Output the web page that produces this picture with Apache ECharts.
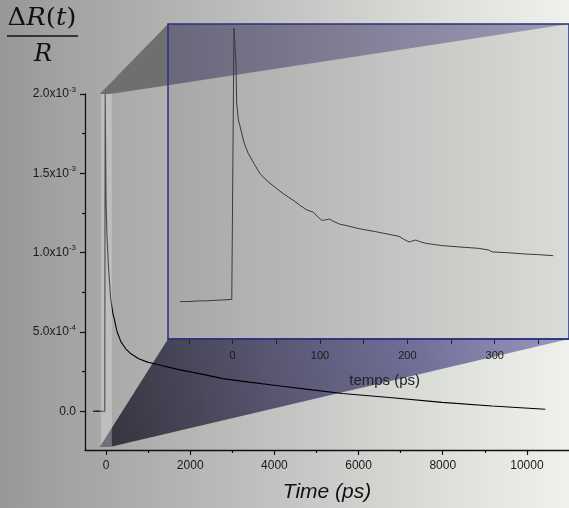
<!DOCTYPE html>
<html><head><meta charset="utf-8">
<script src="https://cdn.jsdelivr.net/npm/echarts@6/dist/echarts.min.js"></script>
<style>html,body{margin:0;padding:0;background:#fff;}#c{width:569px;height:508px;}</style>
</head><body><div id="c"></div>
<script>
// ---- main transient (Time in ps, ΔR/R) ----
const mainTime   = [-310, -200, -100, -30, -25, -20, 0, 20, 57, 111, 160, 199, 237, 265, 355, 467, 592, 775, 988, 1273, 1699, 2220, 2773, 3400, 4187, 4900, 5616, 6801, 7986, 9171, 10436];
const mainSignal = [0, 0.001e-3, 0, 0, 1.2e-3, 2.0e-3, 1.33e-3, 1.12e-3, 0.914e-3, 0.706e-3, 0.62e-3, 0.58e-3, 0.53e-3, 0.50e-3, 0.4375e-3, 0.394e-3, 0.3625e-3, 0.331e-3, 0.31e-3, 0.292e-3, 0.264e-3, 0.2375e-3, 0.206e-3, 0.184e-3, 0.158e-3, 0.135e-3, 0.1125e-3, 0.0856e-3, 0.056e-3, 0.033e-3, 0.0125e-3];

// ---- inset zoom (temps in ps) ----
const insetTime   = [-60, -50, -40, -30, -20, -10, -1, 0.8, 1.5, 3.8, 4.6, 6.5, 9.5, 13, 17.8, 24.3, 31.1, 39.6, 50.1, 58.4, 69, 77, 84.3, 92.6, 97, 102, 106, 110.8, 116, 122, 129.8, 145, 164, 178, 190.5, 196, 202, 209.6, 215, 221, 239.9, 260, 281.7, 293, 297, 315, 334.9, 350, 367];
const insetSignal = [-0.007e-3, -0.006e-3, -0.002e-3, -0.001e-3, 0.003e-3, 0.006e-3, 0.010e-3, 0.012e-3, 2.0e-3, 1.743e-3, 1.45e-3, 1.33e-3, 1.252e-3, 1.16e-3, 1.081e-3, 1.008e-3, 0.934e-3, 0.878e-3, 0.824e-3, 0.783e-3, 0.7385e-3, 0.70e-3, 0.668e-3, 0.648e-3, 0.618e-3, 0.59e-3, 0.592e-3, 0.599e-3, 0.58e-3, 0.5625e-3, 0.552e-3, 0.528e-3, 0.506e-3, 0.488e-3, 0.472e-3, 0.45e-3, 0.431e-3, 0.445e-3, 0.432e-3, 0.421e-3, 0.404e-3, 0.394e-3, 0.384e-3, 0.372e-3, 0.358e-3, 0.352e-3, 0.3425e-3, 0.338e-3, 0.330e-3];

// ---- ticks ----
const xTicks = [0, 2000, 4000, 6000, 8000, 10000];
const xMinorTicks = [1000, 3000, 5000, 7000, 9000];
const yTicks = [0, 0.0005, 0.001, 0.0015, 0.002];
const yTickLabels = ['0.0', '5.0x10^-4', '1.0x10^-3', '1.5x10^-3', '2.0x10^-3'];
const yMinorTicks = [0.00025, 0.00075, 0.00125, 0.00175];
const insetTicks = [-50, 0, 50, 100, 150, 200, 250, 300, 350];
const insetTickLabels = [0, 100, 200, 300];

// ---- texts ----
const xAxisTitle = 'Time (ps)';
const insetAxisTitle = 'temps (ps)';

const FONT = 'Liberation Sans';
const chart = echarts.init(document.getElementById('c'), null, {renderer: 'canvas', width: 569, height: 508});

const mainData = mainTime.map((t, i) => [t, mainSignal[i]]);
const insetData = insetTime.map((t, i) => [t, insetSignal[i]]);

function yFmt(v) {
  const idx = yTicks.findIndex(t => Math.abs(t - v) < 1e-9);
  if (idx < 0) return '';
  const s = yTickLabels[idx];
  if (s.indexOf('^') >= 0) { const p = s.split('^'); return '{m|' + p[0] + '}{e|' + p[1] + '}'; }
  return '{m|' + s + '}';
}
const plain = v => String(v);

const option = {
  animation: false,
  grid: [
    {left: 85, top: 94, width: 485.5, height: 358},
    {left: 168, top: 24, width: 403, height: 315}
  ],
  xAxis: [
    {gridIndex: 0, type: 'value', min: -500, max: 11000,
     name: xAxisTitle, nameLocation: 'middle', nameGap: 32,
     nameTextStyle: {fontFamily: FONT, fontStyle: 'italic', fontSize: 21, color: '#111'},
     axisLine: {onZero: false, lineStyle: {color: '#111', width: 1.3}},
     axisTick: {customValues: xTicks, length: 5, lineStyle: {color: '#111', width: 1.2}},
     axisLabel: {customValues: xTicks, formatter: plain, margin: 10, fontSize: 12, color: '#1a1a1a', fontFamily: FONT},
     splitLine: {show: false}},
    {gridIndex: 0, type: 'value', min: -500, max: 11000, position: 'bottom',
     axisLine: {show: false, onZero: false},
     axisTick: {customValues: xMinorTicks, length: 3, lineStyle: {color: '#111', width: 1.2}},
     axisLabel: {show: false}, splitLine: {show: false}},
    {gridIndex: 1, type: 'value', min: -74, max: 385, z: 6,
     axisLine: {onZero: false, lineStyle: {color: '#2a3080', width: 1.5}},
     axisTick: {customValues: insetTicks, length: 5, lineStyle: {color: '#222', width: 1}},
     axisLabel: {customValues: insetTickLabels, formatter: plain, margin: 11, fontSize: 11, color: '#1a1a1a', fontFamily: FONT},
     splitLine: {show: false}}
  ],
  yAxis: [
    {gridIndex: 0, type: 'value', min: -0.000244, max: 0.002,
     axisLine: {show: true, onZero: false, lineStyle: {color: '#111', width: 1.3}},
     axisTick: {show: true, customValues: yTicks, length: 5, lineStyle: {color: '#111', width: 1.2}},
     axisLabel: {customValues: yTicks, margin: 9, formatter: yFmt,
       rich: {m: {fontSize: 12, color: '#1a1a1a', fontFamily: FONT},
              e: {fontSize: 8, color: '#1a1a1a', fontFamily: FONT, padding: [0, 0, 9, 0]}}},
     splitLine: {show: false}},
    {gridIndex: 0, type: 'value', min: -0.000244, max: 0.002, position: 'left',
     axisLine: {show: false, onZero: false},
     axisTick: {show: true, customValues: yMinorTicks, length: 3, lineStyle: {color: '#111', width: 1.2}},
     axisLabel: {show: false}, splitLine: {show: false}},
    {gridIndex: 1, type: 'value', min: -0.281e-3, max: 2.03e-3, show: false, splitLine: {show: false}}
  ],
  series: [
    {type: 'line', xAxisIndex: 0, yAxisIndex: 0, data: mainData, showSymbol: false, z: 2,
     lineStyle: {color: '#000', width: 1.1}},
    {type: 'line', xAxisIndex: 2, yAxisIndex: 2, data: insetData, showSymbol: false, z: 5,
     lineStyle: {color: '#3a3a3a', width: 1}}
  ]
};
chart.setOption(option);

// decorative projection shapes, positioned from the axes
const m = (x, y) => chart.convertToPixel({xAxisIndex: 0, yAxisIndex: 0}, [x, y]);
const ins = (x, y) => chart.convertToPixel({xAxisIndex: 2, yAxisIndex: 2}, [x, y]);
const A = m(-150, 0.002), B = m(90, 0.002), C = m(-150, -0.225e-3), D = m(90, -0.225e-3);
const ITL = ins(-74, 2.03e-3), ITR = ins(385, 2.03e-3), IBL = ins(-74, -0.281e-3), IBR = ins(385, -0.281e-3);
const P = [ITL[0], B[1] + (ITR[1] - B[1]) * (ITL[0] - B[0]) / (ITR[0] - B[0])];
const LG = echarts.graphic.LinearGradient;
const titlePos = ins(174, -0.281e-3);

chart.setOption({graphic: [
  {type: 'rect', z: -100, silent: true, shape: {x: 0, y: 0, width: 569, height: 508},
   style: {fill: new LG(0, 0, 1, 0, [{offset: 0, color: '#979797'}, {offset: 0.08, color: '#a0a0a0'},
     {offset: 0.3, color: '#b2b2b1'}, {offset: 0.55, color: '#c8c9c6'}, {offset: 0.8, color: '#dfe1dd'}, {offset: 1, color: '#eff1ed'}])}},
  {type: 'polygon', z: 1, silent: true, shape: {points: [C, IBL, IBR, D]},
   style: {fill: new LG(0, 1, 1, 0, [{offset: 0, color: '#33333c'}, {offset: 0.35, color: '#55536c'},
     {offset: 0.7, color: '#73709a'}, {offset: 1, color: '#9c99c0'}])}},
  {type: 'polygon', z: 1, silent: true, shape: {points: [A, ITL, P, B]}, style: {fill: '#6f6f6f'}},
  {type: 'rect', z: 3, silent: true, shape: {x: A[0], y: A[1], width: B[0] - A[0] + 2, height: C[1] - A[1]},
   style: {fill: 'rgba(235,235,235,0.32)'}},
  {type: 'rect', z: 3, silent: true, shape: {x: A[0], y: A[1], width: 1.5, height: C[1] - A[1]},
   style: {fill: 'rgba(0,0,0,0.10)'}},
  {type: 'rect', z: 3, silent: true, shape: {x: ITL[0], y: ITL[1], width: ITR[0] - ITL[0], height: IBL[1] - ITL[1]},
   style: {fill: new LG(0, 0, 1, 0, [{offset: 0, color: '#a7a7a7'}, {offset: 1, color: '#dadcd7'}])}},
  {type: 'polygon', z: 3.5, silent: true, shape: {points: [ITL, ITR, P]},
   style: {fill: new LG(0, 0, 1, 0, [{offset: 0, color: '#69677a'}, {offset: 1, color: '#9e9ab8'}])}},
  {type: 'rect', z: 7, silent: true, shape: {x: ITL[0], y: ITL[1], width: ITR[0] - ITL[0], height: IBL[1] - ITL[1]},
   style: {fill: null, stroke: '#2a3080', lineWidth: 1.5}},
  {type: 'text', z: 7, silent: true, x: titlePos[0], y: titlePos[1] + 42,
   style: {text: insetAxisTitle, align: 'center', verticalAlign: 'middle', fontFamily: FONT, fontSize: 15, fill: '#222'}},
  {type: 'text', z: 7, silent: true, x: 42, y: 19, scaleX: 1.08,
   style: {text: '{d|Δ}{i|R}{u|(}{i|t}{u|)}', align: 'center', verticalAlign: 'middle',
     rich: {d: {fontFamily: 'DejaVu Serif', fontSize: 24, fill: '#111'},
            i: {fontFamily: 'DejaVu Serif', fontStyle: 'italic', fontSize: 24, fill: '#111'},
            u: {fontFamily: 'DejaVu Serif', fontSize: 24, fill: '#111'}}}},
  {type: 'rect', z: 7, silent: true, shape: {x: 7, y: 35.3, width: 71, height: 1.5}, style: {fill: '#111'}},
  {type: 'text', z: 7, silent: true, x: 43, y: 55,
   style: {text: 'R', align: 'center', verticalAlign: 'middle', fontFamily: 'DejaVu Serif', fontStyle: 'italic', fontSize: 24, fill: '#111'}}
]});
</script>
</body></html>
